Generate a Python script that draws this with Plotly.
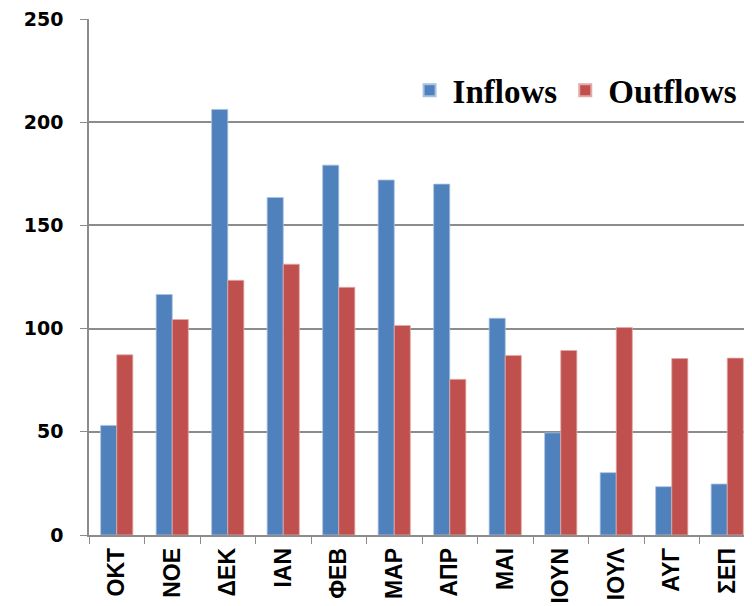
import plotly.graph_objects as go

months = ["ΟΚΤ", "ΝΟΕ", "ΔΕΚ", "ΙΑΝ", "ΦΕΒ", "ΜΑΡ", "ΑΠΡ", "ΜΑΙ", "ΙΟΥΝ", "ΙΟΥΛ", "ΑΥΓ", "ΣΕΠ"]
inflows = [53.1, 116.5, 206.2, 163.5, 179.2, 172.0, 170.0, 105.0, 49.5, 30.2, 23.4, 24.7]
outflows = [87.3, 104.4, 123.4, 131.2, 120.0, 101.5, 75.4, 87.0, 89.4, 100.5, 85.5, 85.7]
y_ticks = [0, 50, 100, 150, 200, 250]

BLUE = "#4F81BD"
RED = "#C0504D"
GRID = "#8C8C8C"

fig = go.Figure()
fig.add_trace(go.Bar(
    x=months, y=inflows, name="Inflows",
    marker=dict(color=BLUE, line=dict(color="#A9C1E0", width=0.8)),
))
fig.add_trace(go.Bar(
    x=months, y=outflows, name="Outflows",
    marker=dict(color=RED, line=dict(color="#E3A9A7", width=0.8)),
))

fig.update_layout(
    width=744, height=598,
    margin=dict(l=81, r=0, t=11, b=71, autoexpand=False),
    paper_bgcolor="white", plot_bgcolor="white",
    barmode="group", bargap=0.42, bargroupgap=0,
    showlegend=True,
    legend=dict(
        orientation="h", x=0.479, y=0.862, xanchor="left", yanchor="middle",
        font=dict(family="Liberation Serif", size=33, color="black", weight="bold"),
        bgcolor="rgba(0,0,0,0)", itemsizing="constant", itemwidth=36,
    ),
    xaxis=dict(
        range=[-0.5, 11.446], type="category", automargin=False,
        showline=True, linecolor=GRID, linewidth=1.5,
        ticks="outside", ticklen=7, tickcolor=GRID, tickwidth=1.2,
        tickson="boundaries", tickangle=-90,
        tickfont=dict(family="Liberation Sans", size=23, color="black", weight="bold"),
        showgrid=False, ticklabelstandoff=2, ticklabeloverflow="allow",
    ),
    yaxis=dict(
        range=[0, 250], tickvals=y_ticks, automargin=False,
        showline=True, linecolor=GRID, linewidth=1.5,
        ticks="outside", ticklen=7, tickcolor=GRID, tickwidth=1.2,
        showgrid=True, gridcolor=GRID, gridwidth=1.5,
        zeroline=False,
        tickfont=dict(family="DejaVu Sans", size=19, color="black", weight="bold"),
        ticklabelstandoff=13, ticklabeloverflow="allow",
    ),
)

fig.write_html("out.html")
